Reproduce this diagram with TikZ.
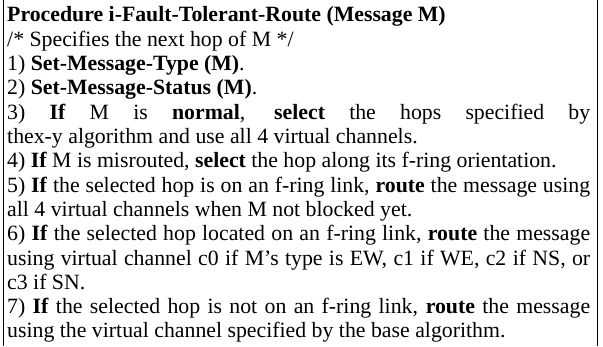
\documentclass[tikz,border=0pt]{standalone}
\usepackage{fontspec}
\setmainfont{Liberation Serif}
\newcommand{\jline}[1]{\makebox[583pt][s]{#1}}
\tikzset{
  ln/.style={anchor=base west, inner sep=0pt, font=\fontsize{21.8}{24.3}\selectfont},
  frame/.style={line width=1.6pt, black}
}
\begin{document}
\begin{tikzpicture}[x=1pt,y=1pt]
\useasboundingbox (0,0) rectangle (603,346);
\coordinate (lt) at (3.5,346);
\coordinate (lb) at (3.5,0);
\coordinate (rt) at (597.5,346);
\coordinate (rb) at (597.5,0);
\draw[frame] (lt) -- (lb);
\draw[frame, line width=1.3pt] (rt) -- (rb);
\def\bx{7}
\def\by{324}
\def\dy{24.3}
\node[ln] (l1) at (\bx,{\by}) {\textbf{Procedure i-Fault-Tolerant-Route (Message M)}};
\node[ln] (l2) at (\bx,{\by-\dy*1}) {/* Specifies the next hop of M */};
\node[ln] (l3) at (\bx,{\by-\dy*2}) {1) \textbf{Set-Message-Type (M)}.};
\node[ln] (l4) at (\bx,{\by-\dy*3}) {2) \textbf{Set-Message-Status (M)}.};
\node[ln] (l5) at (\bx,{\by-\dy*4}) {\jline{3) \textbf{If} M is \textbf{normal}, \textbf{select} the hops specified by}};
\node[ln] (l6) at (\bx,{\by-\dy*5}) {thex-y algorithm and use all 4 virtual channels.};
\node[ln] (l7) at (\bx,{\by-\dy*6}) {4) \textbf{If} M is misrouted, \textbf{select} the hop along its f-ring orientation.};
\node[ln] (l8) at (\bx,{\by-\dy*7}) {\jline{5) \textbf{If} the selected hop is on an f-ring link, \textbf{route} the message using}};
\node[ln] (l9) at (\bx,{\by-\dy*8}) {all 4 virtual channels when M not blocked yet.};
\node[ln] (l10) at (\bx,{\by-\dy*9}) {\jline{6) \textbf{If} the selected hop located on an f-ring link, \textbf{route} the message}};
\node[ln] (l11) at (\bx,{\by-\dy*10}) {\jline{using virtual channel c0 if M’s type is EW, c1 if WE, c2 if NS, or}};
\node[ln] (l12) at (\bx,{\by-\dy*11}) {c3 if SN.};
\node[ln] (l13) at (\bx,{\by-\dy*12}) {\jline{7) \textbf{If} the selected hop is not on an f-ring link, \textbf{route} the message}};
\node[ln] (l14) at (\bx,{\by-\dy*13}) {using the virtual channel specified by the base algorithm.};
\end{tikzpicture}
\end{document}
